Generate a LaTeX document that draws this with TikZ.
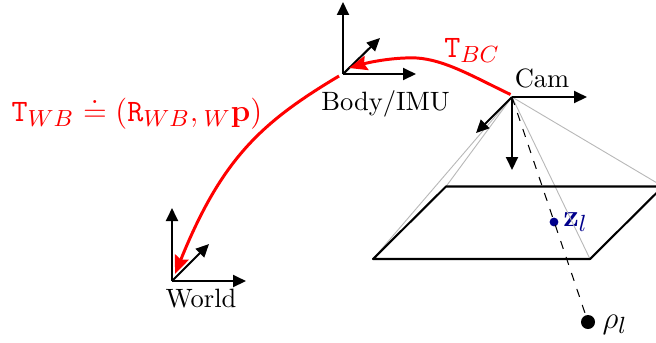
\documentclass[tikz,border=0pt]{standalone}
\usepackage{amsmath}
\usepackage{amssymb}
\usepackage{xcolor}
\usetikzlibrary{arrows.meta,calc,positioning}
\definecolor{measblue}{RGB}{0,0,139}

\begin{document}
\begin{tikzpicture}[
      x=0.385pt, y=-0.385pt,
      axis/.style={-{Triangle[length=5pt,width=4.6pt]}, line width=0.8pt},
      pose/.style={-{Stealth[length=7pt,width=5.6pt,inset=1pt]}, red, line width=1.15pt},
      plane/.style={line width=0.8pt, line join=round},
      ray/.style={black!28, line width=0.35pt},
      lbl/.style={anchor=base, inner sep=0pt, font=\fontsize{10.2}{12}\selectfont},
      redlbl/.style={lbl, red, font=\fontsize{12.5}{15}\selectfont},
      dot/.style={circle, fill, inner sep=0pt}
    ]
    \useasboundingbox (0,0) rectangle (656,342);
    \clip (0,0) rectangle (656,342);

    % frames
    \coordinate (world) at (172,281);
    \coordinate (worldx) at (246,281);
    \coordinate (worldy) at (172,208);
    \coordinate (worldz) at (209,244);
    \coordinate (body) at (343,74);
    \coordinate (bodyx) at (416,74);
    \coordinate (bodyy) at (343,2);
    \coordinate (bodyz) at (380,38);
    \coordinate (cam) at (512,97);
    \coordinate (camx) at (587,97);
    \coordinate (camy) at (512,170);
    \coordinate (camz) at (476,133);

    % image plane
    \coordinate (pa) at (373,259);
    \coordinate (pb) at (590,259);
    \coordinate (pc) at (663,186.5);
    \coordinate (pd) at (446,186.5);

    \node[dot, measblue, minimum size=3.4pt] (z) at (554,222) {};
    \node[dot, black, minimum size=5.4pt] (rho) at (588,322) {};

    \node[lbl] (worldlbl) at (201,307) {World};
    \node[lbl] (bodylbl) at (385.5,110) {Body/IMU};
    \node[lbl] (camlbl) at (542,87) {Cam};
    \node[redlbl] (twb) at (137,121) {\(\mathtt{T}_{WB} \doteq (\mathtt{R}_{WB}, {}_{W}\mathbf{p})\)};
    \node[redlbl] (tbc) at (472,57) {\(\mathtt{T}_{BC}\)};
    \node[lbl, measblue, font=\fontsize{12.5}{15}\selectfont] (zlbl) at (575.5,226) {\(\mathbf{z}_{l}\)};
    \node[lbl, font=\fontsize{12.5}{15}\selectfont] (rholbl) at (615,328) {\(\rho_{l}\)};

    \draw[ray] (cam) -- (pa);
    \draw[ray] (cam) -- (pb);
    \draw[ray] (cam) -- (pc);
    \draw[ray] (cam) -- (pd);

    \draw[plane] (pa) -- (pb) -- (pc) -- (pd) -- cycle;
    \draw[line width=0.4pt, dash pattern=on 3.2pt off 3.3pt] (cam) -- (rho);

    \draw[axis] (world) -- (worldx);
    \draw[axis] (world) -- (worldy);
    \draw[axis] (world) -- (worldz);
    \draw[axis] (body) -- (bodyx);
    \draw[axis] (body) -- (bodyy);
    \draw[axis] (body) -- (bodyz);
    \draw[axis] (cam) -- (camx);
    \draw[axis] (cam) -- (camy);
    \draw[axis] (cam) -- (camz);

    % transforms
    \coordinate (wbstart) at (339,76);
    \coordinate (wbend) at (175,274);
    \coordinate (bcstart) at (510.5,94.5);
    \coordinate (bctop) at (417,58);
    \coordinate (bcend) at (349,68);
    \draw[pose] (wbstart) .. controls (262,122) and (222,158) .. (wbend);
    \draw[pose] (bcstart) .. controls (472,76) and (445,60) .. (bctop) .. controls (395,57) and (370,62) .. (bcend);
  \end{tikzpicture}
\end{document}
